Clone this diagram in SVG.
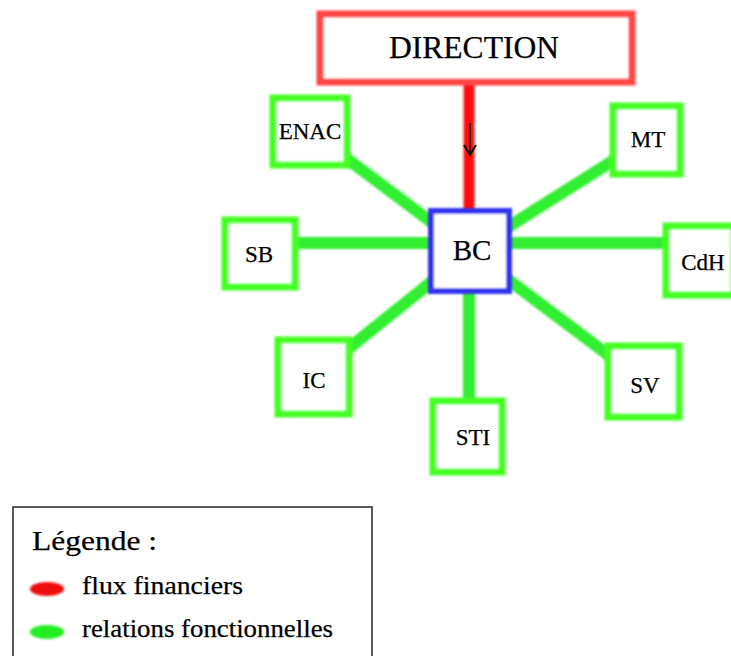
<svg xmlns="http://www.w3.org/2000/svg" width="731" height="656" viewBox="0 0 731 656">
<defs>
<filter id="soft" filterUnits="userSpaceOnUse" x="0" y="0" width="731" height="656"><feGaussianBlur stdDeviation="0.9"/></filter>
</defs>
<style>
text{font-family:"Liberation Serif","Times New Roman",serif;fill:#000;stroke:#000;stroke-width:0.25}
.node rect{fill:#fff;stroke:#44ff22;stroke-width:7}
.node text{font-size:23px;text-anchor:middle}
.conn line{stroke:#33ee33;stroke-width:12}
</style>
<rect width="731" height="656" fill="#fff"/>
<g id="connectors">
<g class="conn" filter="url(#soft)">
<line x1="310" y1="131" x2="470" y2="251"/>
<line x1="646" y1="140" x2="470" y2="251"/>
<line x1="260" y1="243" x2="470" y2="243"/>
<line x1="470" y1="243" x2="700" y2="243"/>
<line x1="313" y1="377" x2="470" y2="251"/>
<line x1="643" y1="381" x2="470" y2="251"/>
<line x1="469" y1="251" x2="469" y2="436"/>
</g>
<line x1="469" y1="48" x2="469" y2="212" stroke="#ff1111" stroke-width="11" filter="url(#soft)"/>
<line x1="470" y1="123" x2="470" y2="154" stroke="#111" stroke-width="1.6"/>
<path d="M464,145 L470,155 L476,145" fill="none" stroke="#111" stroke-width="2"/>
</g>
<g id="direction">
<rect x="320" y="14" width="312" height="68" fill="#fff" stroke="#ff4444" stroke-width="7" filter="url(#soft)"/>
<text x="474" y="58" font-size="31" text-anchor="middle" textLength="170" lengthAdjust="spacingAndGlyphs">DIRECTION</text>
</g>
<g id="bc">
<rect x="431" y="211" width="78" height="80" fill="#fff" stroke="#3333ee" stroke-width="6" filter="url(#soft)"/>
<text x="472" y="260" font-size="29" text-anchor="middle">BC</text>
</g>
<g id="enac" class="node"><rect x="273" y="98" width="74" height="67" filter="url(#soft)"/><text x="310" y="139">ENAC</text></g>
<g id="mt" class="node"><rect x="613" y="106" width="67" height="68" filter="url(#soft)"/><text x="648" y="147">MT</text></g>
<g id="sb" class="node"><rect x="225" y="220" width="70" height="67" filter="url(#soft)"/><text x="259" y="262">SB</text></g>
<g id="cdh" class="node"><rect x="666" y="226" width="68" height="69" filter="url(#soft)"/><text x="703" y="270">CdH</text></g>
<g id="ic" class="node"><rect x="278" y="340" width="71" height="74" filter="url(#soft)"/><text x="314" y="388">IC</text></g>
<g id="sti" class="node"><rect x="433" y="401" width="69" height="71" filter="url(#soft)"/><text x="473" y="445">STI</text></g>
<g id="sv" class="node"><rect x="608" y="346" width="71" height="71" filter="url(#soft)"/><text x="645" y="393">SV</text></g>
<g id="legend">
<rect x="13" y="507" width="359" height="170" fill="#fff" stroke="#222" stroke-width="1.5"/>
<text x="32" y="550" font-size="28" textLength="125" lengthAdjust="spacingAndGlyphs">Légende :</text>
<ellipse cx="47" cy="589" rx="17" ry="7" fill="#ee1111" filter="url(#soft)"/>
<text x="82" y="594" font-size="25" textLength="161" lengthAdjust="spacingAndGlyphs">flux financiers</text>
<ellipse cx="47" cy="632" rx="17" ry="7" fill="#22ee22" filter="url(#soft)"/>
<text x="82" y="637" font-size="25" textLength="251" lengthAdjust="spacingAndGlyphs">relations fonctionnelles</text>
</g>
</svg>
